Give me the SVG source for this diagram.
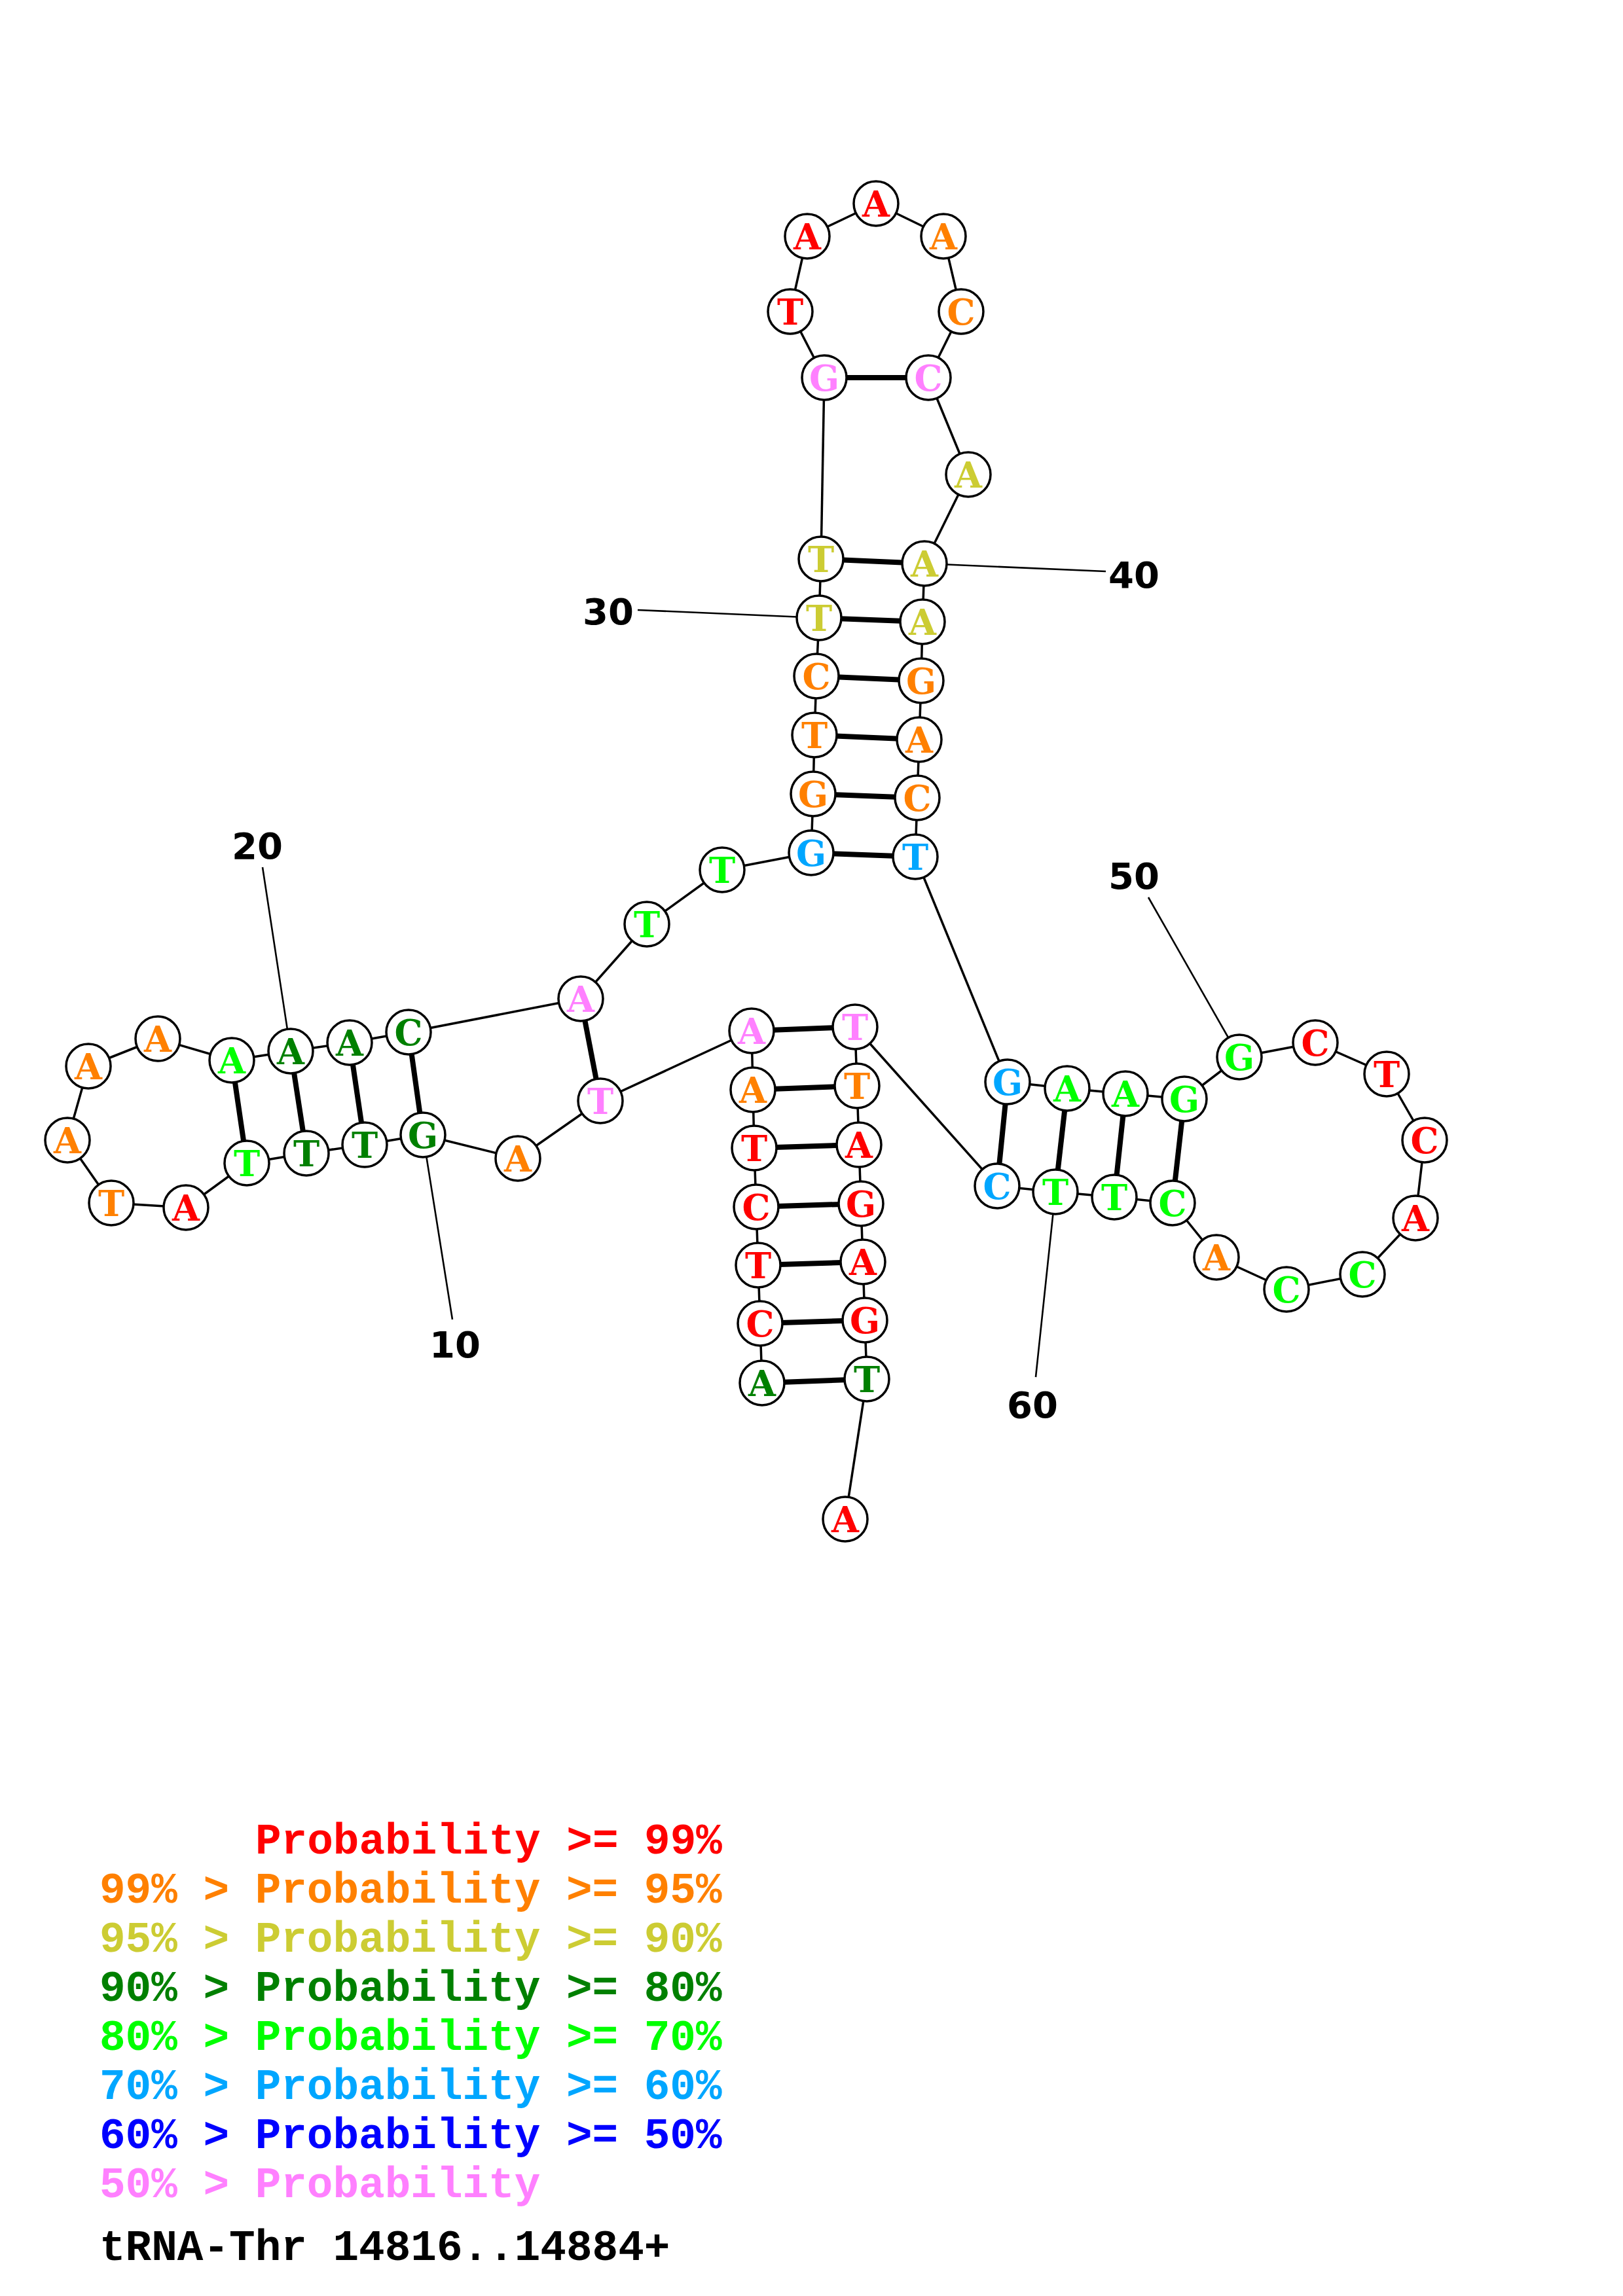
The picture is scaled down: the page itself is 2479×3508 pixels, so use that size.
<svg xmlns="http://www.w3.org/2000/svg" width="2479" height="3508" viewBox="0 0 2479 3508">
<style>
.bb{stroke:#000;stroke-width:3.5;fill:none}
.bp{stroke:#000;stroke-width:8;fill:none}
.ld{stroke:#000;stroke-width:2.6;fill:none}
.nd circle{fill:#fff;stroke:#000;stroke-width:3.5}
.nd text{font-family:"DejaVu Serif","Liberation Serif",serif;font-weight:bold;font-size:54px;text-anchor:middle}
.num{font-family:"DejaVu Sans",sans-serif;font-weight:bold;font-size:56px;text-anchor:middle;fill:#000}
.lg{font-family:"Liberation Mono","Courier New",monospace;font-weight:bold;font-size:66px}
.r{fill:#FF0000}.o{fill:#FF8000}.y{fill:#CCCC33}.d{fill:#008000}.g{fill:#00FF00}.b{fill:#00A6FF}.u{fill:#0000FF}.p{fill:#FF80FF}.k{fill:#000}
</style>
<rect width="2479" height="3508" fill="#fff"/>
<g id="connectors">
<line class="bb" x1="1164" y1="2113" x2="1161" y2="2022"/>
<line class="bb" x1="1161" y1="2022" x2="1158" y2="1933"/>
<line class="bb" x1="1158" y1="1933" x2="1155" y2="1844"/>
<line class="bb" x1="1155" y1="1844" x2="1152" y2="1754"/>
<line class="bb" x1="1152" y1="1754" x2="1150" y2="1665"/>
<line class="bb" x1="1150" y1="1665" x2="1148" y2="1575"/>
<line class="bb" x1="1148" y1="1575" x2="917" y2="1682"/>
<line class="bb" x1="917" y1="1682" x2="791" y2="1770"/>
<line class="bb" x1="791" y1="1770" x2="646" y2="1734"/>
<line class="bb" x1="646" y1="1734" x2="557" y2="1749"/>
<line class="bb" x1="557" y1="1749" x2="468" y2="1762"/>
<line class="bb" x1="468" y1="1762" x2="377" y2="1777"/>
<line class="bb" x1="377" y1="1777" x2="284" y2="1845"/>
<line class="bb" x1="284" y1="1845" x2="170" y2="1838"/>
<line class="bb" x1="170" y1="1838" x2="103" y2="1742"/>
<line class="bb" x1="103" y1="1742" x2="135" y2="1629"/>
<line class="bb" x1="135" y1="1629" x2="241" y2="1587"/>
<line class="bb" x1="241" y1="1587" x2="354" y2="1620"/>
<line class="bb" x1="354" y1="1620" x2="444" y2="1606"/>
<line class="bb" x1="444" y1="1606" x2="534" y2="1593"/>
<line class="bb" x1="534" y1="1593" x2="624" y2="1577"/>
<line class="bb" x1="624" y1="1577" x2="887" y2="1526"/>
<line class="bb" x1="887" y1="1526" x2="988" y2="1412"/>
<line class="bb" x1="988" y1="1412" x2="1103" y2="1329"/>
<line class="bb" x1="1103" y1="1329" x2="1239" y2="1303"/>
<line class="bb" x1="1239" y1="1303" x2="1242" y2="1213"/>
<line class="bb" x1="1242" y1="1213" x2="1244" y2="1123"/>
<line class="bb" x1="1244" y1="1123" x2="1247" y2="1033"/>
<line class="bb" x1="1247" y1="1033" x2="1251" y2="944"/>
<line class="bb" x1="1251" y1="944" x2="1254" y2="854"/>
<line class="bb" x1="1254" y1="854" x2="1259" y2="577"/>
<line class="bb" x1="1259" y1="577" x2="1207" y2="476"/>
<line class="bb" x1="1207" y1="476" x2="1233" y2="361"/>
<line class="bb" x1="1233" y1="361" x2="1338" y2="311"/>
<line class="bb" x1="1338" y1="311" x2="1441" y2="361"/>
<line class="bb" x1="1441" y1="361" x2="1468" y2="476"/>
<line class="bb" x1="1468" y1="476" x2="1418" y2="577"/>
<line class="bb" x1="1418" y1="577" x2="1479" y2="725"/>
<line class="bb" x1="1479" y1="725" x2="1412" y2="861"/>
<line class="bb" x1="1412" y1="861" x2="1409" y2="950"/>
<line class="bb" x1="1409" y1="950" x2="1407" y2="1040"/>
<line class="bb" x1="1407" y1="1040" x2="1404" y2="1130"/>
<line class="bb" x1="1404" y1="1130" x2="1401" y2="1219"/>
<line class="bb" x1="1401" y1="1219" x2="1398" y2="1309"/>
<line class="bb" x1="1398" y1="1309" x2="1539" y2="1653"/>
<line class="bb" x1="1539" y1="1653" x2="1630" y2="1663"/>
<line class="bb" x1="1630" y1="1663" x2="1719" y2="1671"/>
<line class="bb" x1="1719" y1="1671" x2="1809" y2="1679"/>
<line class="bb" x1="1809" y1="1679" x2="1893" y2="1615"/>
<line class="bb" x1="1893" y1="1615" x2="2009" y2="1593"/>
<line class="bb" x1="2009" y1="1593" x2="2118" y2="1641"/>
<line class="bb" x1="2118" y1="1641" x2="2176" y2="1742"/>
<line class="bb" x1="2176" y1="1742" x2="2162" y2="1861"/>
<line class="bb" x1="2162" y1="1861" x2="2081" y2="1947"/>
<line class="bb" x1="2081" y1="1947" x2="1965" y2="1970"/>
<line class="bb" x1="1965" y1="1970" x2="1858" y2="1921"/>
<line class="bb" x1="1858" y1="1921" x2="1791" y2="1838"/>
<line class="bb" x1="1791" y1="1838" x2="1702" y2="1829"/>
<line class="bb" x1="1702" y1="1829" x2="1612" y2="1821"/>
<line class="bb" x1="1612" y1="1821" x2="1523" y2="1812"/>
<line class="bb" x1="1523" y1="1812" x2="1306" y2="1569"/>
<line class="bb" x1="1306" y1="1569" x2="1309" y2="1659"/>
<line class="bb" x1="1309" y1="1659" x2="1312" y2="1749"/>
<line class="bb" x1="1312" y1="1749" x2="1315" y2="1839"/>
<line class="bb" x1="1315" y1="1839" x2="1318" y2="1928"/>
<line class="bb" x1="1318" y1="1928" x2="1321" y2="2017"/>
<line class="bb" x1="1321" y1="2017" x2="1324" y2="2107"/>
<line class="bb" x1="1324" y1="2107" x2="1291" y2="2321"/>
<line class="bp" x1="1164" y1="2113" x2="1324" y2="2107"/>
<line class="bp" x1="1161" y1="2022" x2="1321" y2="2017"/>
<line class="bp" x1="1158" y1="1933" x2="1318" y2="1928"/>
<line class="bp" x1="1155" y1="1844" x2="1315" y2="1839"/>
<line class="bp" x1="1152" y1="1754" x2="1312" y2="1749"/>
<line class="bp" x1="1150" y1="1665" x2="1309" y2="1659"/>
<line class="bp" x1="1148" y1="1575" x2="1306" y2="1569"/>
<line class="bp" x1="917" y1="1682" x2="887" y2="1526"/>
<line class="bp" x1="646" y1="1734" x2="624" y2="1577"/>
<line class="bp" x1="557" y1="1749" x2="534" y2="1593"/>
<line class="bp" x1="468" y1="1762" x2="444" y2="1606"/>
<line class="bp" x1="377" y1="1777" x2="354" y2="1620"/>
<line class="bp" x1="1239" y1="1303" x2="1398" y2="1309"/>
<line class="bp" x1="1242" y1="1213" x2="1401" y2="1219"/>
<line class="bp" x1="1244" y1="1123" x2="1404" y2="1130"/>
<line class="bp" x1="1247" y1="1033" x2="1407" y2="1040"/>
<line class="bp" x1="1251" y1="944" x2="1409" y2="950"/>
<line class="bp" x1="1254" y1="854" x2="1412" y2="861"/>
<line class="bp" x1="1259" y1="577" x2="1418" y2="577"/>
<line class="bp" x1="1539" y1="1653" x2="1523" y2="1812"/>
<line class="bp" x1="1630" y1="1663" x2="1612" y2="1821"/>
<line class="bp" x1="1719" y1="1671" x2="1702" y2="1829"/>
<line class="bp" x1="1809" y1="1679" x2="1791" y2="1838"/>
<line class="ld" x1="646" y1="1734" x2="691" y2="2016"/>
<line class="ld" x1="444" y1="1606" x2="401" y2="1325"/>
<line class="ld" x1="1251" y1="944" x2="974" y2="932"/>
<line class="ld" x1="1412" y1="861" x2="1689" y2="873"/>
<line class="ld" x1="1893" y1="1615" x2="1754" y2="1371"/>
<line class="ld" x1="1612" y1="1821" x2="1582" y2="2104"/>
</g>
<g id="labels">
<text class="num" x="695" y="2074">10</text>
<text class="num" x="393" y="1312">20</text>
<text class="num" x="929" y="954">30</text>
<text class="num" x="1732" y="898">40</text>
<text class="num" x="1732" y="1358">50</text>
<text class="num" x="1577" y="2166">60</text>
</g>
<g id="nodes">
<g id="n1" class="nd"><circle cx="1164" cy="2113" r="34"/><text class="d" x="1164" y="2133">A</text></g>
<g id="n2" class="nd"><circle cx="1161" cy="2022" r="34"/><text class="r" x="1161" y="2042">C</text></g>
<g id="n3" class="nd"><circle cx="1158" cy="1933" r="34"/><text class="r" x="1158" y="1953">T</text></g>
<g id="n4" class="nd"><circle cx="1155" cy="1844" r="34"/><text class="r" x="1155" y="1864">C</text></g>
<g id="n5" class="nd"><circle cx="1152" cy="1754" r="34"/><text class="r" x="1152" y="1774">T</text></g>
<g id="n6" class="nd"><circle cx="1150" cy="1665" r="34"/><text class="o" x="1150" y="1685">A</text></g>
<g id="n7" class="nd"><circle cx="1148" cy="1575" r="34"/><text class="p" x="1148" y="1595">A</text></g>
<g id="n8" class="nd"><circle cx="917" cy="1682" r="34"/><text class="p" x="917" y="1702">T</text></g>
<g id="n9" class="nd"><circle cx="791" cy="1770" r="34"/><text class="o" x="791" y="1790">A</text></g>
<g id="n10" class="nd"><circle cx="646" cy="1734" r="34"/><text class="d" x="646" y="1754">G</text></g>
<g id="n11" class="nd"><circle cx="557" cy="1749" r="34"/><text class="d" x="557" y="1769">T</text></g>
<g id="n12" class="nd"><circle cx="468" cy="1762" r="34"/><text class="d" x="468" y="1782">T</text></g>
<g id="n13" class="nd"><circle cx="377" cy="1777" r="34"/><text class="g" x="377" y="1797">T</text></g>
<g id="n14" class="nd"><circle cx="284" cy="1845" r="34"/><text class="r" x="284" y="1865">A</text></g>
<g id="n15" class="nd"><circle cx="170" cy="1838" r="34"/><text class="o" x="170" y="1858">T</text></g>
<g id="n16" class="nd"><circle cx="103" cy="1742" r="34"/><text class="o" x="103" y="1762">A</text></g>
<g id="n17" class="nd"><circle cx="135" cy="1629" r="34"/><text class="o" x="135" y="1649">A</text></g>
<g id="n18" class="nd"><circle cx="241" cy="1587" r="34"/><text class="o" x="241" y="1607">A</text></g>
<g id="n19" class="nd"><circle cx="354" cy="1620" r="34"/><text class="g" x="354" y="1640">A</text></g>
<g id="n20" class="nd"><circle cx="444" cy="1606" r="34"/><text class="d" x="444" y="1626">A</text></g>
<g id="n21" class="nd"><circle cx="534" cy="1593" r="34"/><text class="d" x="534" y="1613">A</text></g>
<g id="n22" class="nd"><circle cx="624" cy="1577" r="34"/><text class="d" x="624" y="1597">C</text></g>
<g id="n23" class="nd"><circle cx="887" cy="1526" r="34"/><text class="p" x="887" y="1546">A</text></g>
<g id="n24" class="nd"><circle cx="988" cy="1412" r="34"/><text class="g" x="988" y="1432">T</text></g>
<g id="n25" class="nd"><circle cx="1103" cy="1329" r="34"/><text class="g" x="1103" y="1349">T</text></g>
<g id="n26" class="nd"><circle cx="1239" cy="1303" r="34"/><text class="b" x="1239" y="1323">G</text></g>
<g id="n27" class="nd"><circle cx="1242" cy="1213" r="34"/><text class="o" x="1242" y="1233">G</text></g>
<g id="n28" class="nd"><circle cx="1244" cy="1123" r="34"/><text class="o" x="1244" y="1143">T</text></g>
<g id="n29" class="nd"><circle cx="1247" cy="1033" r="34"/><text class="o" x="1247" y="1053">C</text></g>
<g id="n30" class="nd"><circle cx="1251" cy="944" r="34"/><text class="y" x="1251" y="964">T</text></g>
<g id="n31" class="nd"><circle cx="1254" cy="854" r="34"/><text class="y" x="1254" y="874">T</text></g>
<g id="n32" class="nd"><circle cx="1259" cy="577" r="34"/><text class="p" x="1259" y="597">G</text></g>
<g id="n33" class="nd"><circle cx="1207" cy="476" r="34"/><text class="r" x="1207" y="496">T</text></g>
<g id="n34" class="nd"><circle cx="1233" cy="361" r="34"/><text class="r" x="1233" y="381">A</text></g>
<g id="n35" class="nd"><circle cx="1338" cy="311" r="34"/><text class="r" x="1338" y="331">A</text></g>
<g id="n36" class="nd"><circle cx="1441" cy="361" r="34"/><text class="o" x="1441" y="381">A</text></g>
<g id="n37" class="nd"><circle cx="1468" cy="476" r="34"/><text class="o" x="1468" y="496">C</text></g>
<g id="n38" class="nd"><circle cx="1418" cy="577" r="34"/><text class="p" x="1418" y="597">C</text></g>
<g id="n39" class="nd"><circle cx="1479" cy="725" r="34"/><text class="y" x="1479" y="745">A</text></g>
<g id="n40" class="nd"><circle cx="1412" cy="861" r="34"/><text class="y" x="1412" y="881">A</text></g>
<g id="n41" class="nd"><circle cx="1409" cy="950" r="34"/><text class="y" x="1409" y="970">A</text></g>
<g id="n42" class="nd"><circle cx="1407" cy="1040" r="34"/><text class="o" x="1407" y="1060">G</text></g>
<g id="n43" class="nd"><circle cx="1404" cy="1130" r="34"/><text class="o" x="1404" y="1150">A</text></g>
<g id="n44" class="nd"><circle cx="1401" cy="1219" r="34"/><text class="o" x="1401" y="1239">C</text></g>
<g id="n45" class="nd"><circle cx="1398" cy="1309" r="34"/><text class="b" x="1398" y="1329">T</text></g>
<g id="n46" class="nd"><circle cx="1539" cy="1653" r="34"/><text class="b" x="1539" y="1673">G</text></g>
<g id="n47" class="nd"><circle cx="1630" cy="1663" r="34"/><text class="g" x="1630" y="1683">A</text></g>
<g id="n48" class="nd"><circle cx="1719" cy="1671" r="34"/><text class="g" x="1719" y="1691">A</text></g>
<g id="n49" class="nd"><circle cx="1809" cy="1679" r="34"/><text class="g" x="1809" y="1699">G</text></g>
<g id="n50" class="nd"><circle cx="1893" cy="1615" r="34"/><text class="g" x="1893" y="1635">G</text></g>
<g id="n51" class="nd"><circle cx="2009" cy="1593" r="34"/><text class="r" x="2009" y="1613">C</text></g>
<g id="n52" class="nd"><circle cx="2118" cy="1641" r="34"/><text class="r" x="2118" y="1661">T</text></g>
<g id="n53" class="nd"><circle cx="2176" cy="1742" r="34"/><text class="r" x="2176" y="1762">C</text></g>
<g id="n54" class="nd"><circle cx="2162" cy="1861" r="34"/><text class="r" x="2162" y="1881">A</text></g>
<g id="n55" class="nd"><circle cx="2081" cy="1947" r="34"/><text class="g" x="2081" y="1967">C</text></g>
<g id="n56" class="nd"><circle cx="1965" cy="1970" r="34"/><text class="g" x="1965" y="1990">C</text></g>
<g id="n57" class="nd"><circle cx="1858" cy="1921" r="34"/><text class="o" x="1858" y="1941">A</text></g>
<g id="n58" class="nd"><circle cx="1791" cy="1838" r="34"/><text class="g" x="1791" y="1858">C</text></g>
<g id="n59" class="nd"><circle cx="1702" cy="1829" r="34"/><text class="g" x="1702" y="1849">T</text></g>
<g id="n60" class="nd"><circle cx="1612" cy="1821" r="34"/><text class="g" x="1612" y="1841">T</text></g>
<g id="n61" class="nd"><circle cx="1523" cy="1812" r="34"/><text class="b" x="1523" y="1832">C</text></g>
<g id="n62" class="nd"><circle cx="1306" cy="1569" r="34"/><text class="p" x="1306" y="1589">T</text></g>
<g id="n63" class="nd"><circle cx="1309" cy="1659" r="34"/><text class="o" x="1309" y="1679">T</text></g>
<g id="n64" class="nd"><circle cx="1312" cy="1749" r="34"/><text class="r" x="1312" y="1769">A</text></g>
<g id="n65" class="nd"><circle cx="1315" cy="1839" r="34"/><text class="r" x="1315" y="1859">G</text></g>
<g id="n66" class="nd"><circle cx="1318" cy="1928" r="34"/><text class="r" x="1318" y="1948">A</text></g>
<g id="n67" class="nd"><circle cx="1321" cy="2017" r="34"/><text class="r" x="1321" y="2037">G</text></g>
<g id="n68" class="nd"><circle cx="1324" cy="2107" r="34"/><text class="d" x="1324" y="2127">T</text></g>
<g id="n69" class="nd"><circle cx="1291" cy="2321" r="34"/><text class="r" x="1291" y="2341">A</text></g>
</g>
<g id="legend">
<text class="lg r" x="390" y="2832">Probability &gt;= 99%</text>
<text class="lg o" x="152" y="2907">99% &gt; Probability &gt;= 95%</text>
<text class="lg y" x="152" y="2982">95% &gt; Probability &gt;= 90%</text>
<text class="lg d" x="152" y="3057">90% &gt; Probability &gt;= 80%</text>
<text class="lg g" x="152" y="3132">80% &gt; Probability &gt;= 70%</text>
<text class="lg b" x="152" y="3207">70% &gt; Probability &gt;= 60%</text>
<text class="lg u" x="152" y="3282">60% &gt; Probability &gt;= 50%</text>
<text class="lg p" x="152" y="3357">50% &gt; Probability</text>
<text class="lg k" x="152" y="3453">tRNA-Thr 14816..14884+</text>
</g>
</svg>
